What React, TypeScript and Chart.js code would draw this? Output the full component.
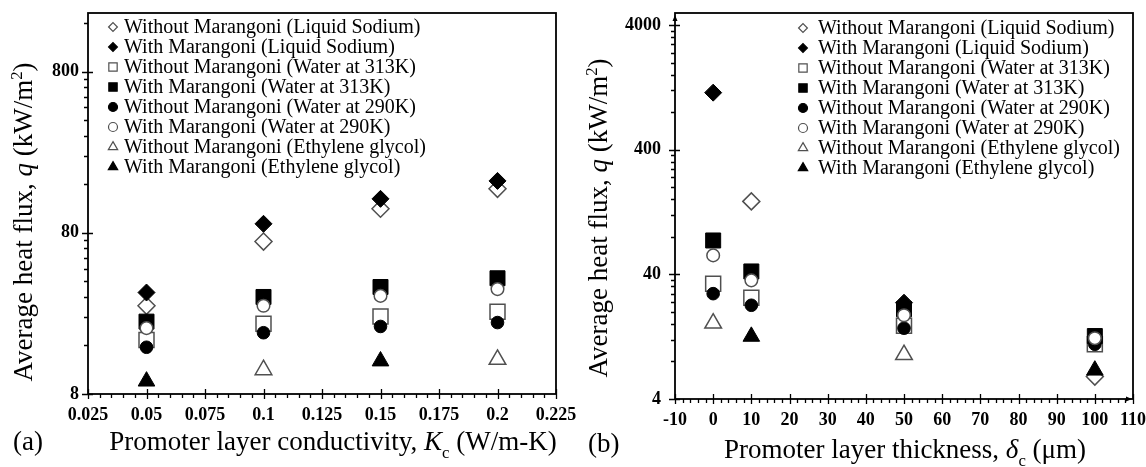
import React, { useEffect, useRef } from "react";
import { Chart, registerables } from "chart.js";
import { drawPoint } from "chart.js/helpers";

Chart.register(...registerables);

const FONT = '"Liberation Serif", "Times New Roman", serif';

// ---------- shared series names ----------
const seriesNames = [
  "Without Marangoni (Liquid Sodium)",
  "With Marangoni (Liquid Sodium)",
  "Without Marangoni (Water at 313K)",
  "With Marangoni (Water at 313K)",
  "Without Marangoni (Water at 290K)",
  "With Marangoni (Water at 290K)",
  "Without Marangoni (Ethylene glycol)",
  "With Marangoni (Ethylene glycol)",
];

// ---------- panel (a): conductivity ----------
const kcValues = [0.05, 0.1, 0.15, 0.2];
const aWithoutSodium = [28.2, 70.6, 113, 150];
const aWithSodium = [34.1, 91, 130, 168];
const aWithout313 = [17.3, 21.8, 24.2, 25.9];
const aWith313 = [22.5, 32.0, 36.9, 41.8];
const aWithout290 = [15.6, 19.2, 21.0, 22.2];
const aWith290 = [20.5, 28.2, 32.5, 35.8];
const aWithoutGlycol = [null, 11.3, null, 13.1];
const aWithGlycol = [9.6, null, 12.8, null];
const aXTicks = [0.025, 0.05, 0.075, 0.1, 0.125, 0.15, 0.175, 0.2, 0.225];
const aYTicks = [8, 80, 800];
const aYMax = 1850;

// ---------- panel (b): thickness ----------
const deltaValues = [0, 10, 50, 100];
const bWithoutSodium = [null, 154, null, 6.05];
const bWithSodium = [1148, null, 23.7, null];
const bWithout313 = [33.7, 26, 15.5, 11];
const bWith313 = [74.8, 42.2, 21, 12.8];
const bWithout290 = [28, 22.6, 14.8, 11];
const bWith290 = [56.8, 35.8, 18.8, 12.3];
const bWithoutGlycol = [16.2, null, 9.05, null];
const bWithGlycol = [null, 12.7, null, 6.8];
const bXTicks = [-10, 0, 10, 20, 30, 40, 50, 60, 70, 80, 90, 100, 110];
const bYTicks = [4, 40, 400, 4000];
const bYMax = 5000;

// marker styles (index-aligned with seriesNames)
const MARKERS = [
  { shape: "rectRot", filled: false, r: 8.5, lr: 4.4 },
  { shape: "rectRot", filled: true, r: 8.5, lr: 4.4 },
  { shape: "rect", filled: false, r: 10.6, lr: 5.9 },
  { shape: "rect", filled: true, r: 10.6, lr: 5.9 },
  { shape: "circle", filled: true, r: 6.3, lr: 4.5 },
  { shape: "circle", filled: false, r: 6.3, lr: 4.5 },
  { shape: "triangle", filled: false, r: 9.6, lr: 5.4 },
  { shape: "triangle", filled: true, r: 9.6, lr: 5.4 },
];

const fillOf = (i: number) => (MARKERS[i].filled ? "#000000" : "#ffffff");
const strokeOf = (i: number) => (MARKERS[i].filled ? "#000000" : "#505050");

function makeDatasets(xs: number[], series: (number | null)[][]) {
  return series.map((vals, i) => {
    const m = MARKERS[i];
    return {
      label: seriesNames[i],
      data: xs
        .map((x, j) => (vals[j] == null ? null : { x, y: vals[j] as number }))
        .filter((p) => p !== null),
      order: 10 - i,
      pointStyle: m.shape,
      pointRadius: m.r,
      pointHoverRadius: m.r,
      pointBorderWidth: m.filled ? 1 : 1.5,
      borderWidth: m.filled ? 1 : 1.5,
      backgroundColor: fillOf(i),
      borderColor: strokeOf(i),
      pointBackgroundColor: fillOf(i),
      pointBorderColor: strokeOf(i),
      showLine: false,
    };
  });
}

function linearMinor(majors: number[], div: number) {
  const out: number[] = [];
  for (let i = 0; i < majors.length - 1; i++) {
    const step = (majors[i + 1] - majors[i]) / div;
    for (let k = 1; k < div; k++) out.push(majors[i] + k * step);
  }
  return out;
}

function logMinor(majors: number[], max: number) {
  const out: number[] = [];
  for (const m of majors) {
    for (let n = 2; n <= 9; n++) {
      const v = m * n;
      if (v < max) out.push(v);
    }
  }
  return out;
}

type Seg = { t: string; k?: "it" | "sub" | "sup" };

function drawRich(ctx: CanvasRenderingContext2D, segs: Seg[], size: number, x: number, y: number, rotate: boolean, align: "center" | "left") {
  ctx.save();
  ctx.translate(x, y);
  if (rotate) ctx.rotate(-Math.PI / 2);
  const parts = segs.map((s) => {
    const small = s.k === "sub" || s.k === "sup";
    const fs = small ? size * 0.62 : size;
    const font = `${s.k === "it" ? "italic " : ""}${fs}px ${FONT}`;
    ctx.font = font;
    return {
      ...s,
      font,
      w: ctx.measureText(s.t).width,
      dy: s.k === "sub" ? size * 0.3 : s.k === "sup" ? -size * 0.38 : 0,
    };
  });
  const total = parts.reduce((a, p) => a + p.w, 0);
  let cx = align === "center" ? -total / 2 : 0;
  ctx.textBaseline = "alphabetic";
  ctx.textAlign = "left";
  ctx.fillStyle = "#000";
  for (const p of parts) {
    ctx.font = p.font;
    ctx.fillText(p.t, cx, p.dy);
    cx += p.w;
  }
  ctx.restore();
}

type PanelCfg = {
  xs: number[];
  series: (number | null)[][];
  xMajors: number[];
  xMinorDiv: number;
  yMajors: number[];
  yMax: number;
  width: number;
  plotLeft: number;
  plotRight: number;
  plotTop: number;
  plotBottom: number;
  height: number;
  yLabelPad: number;
  legendSymX: number;
  legendTextX: number;
  legendTopY: number;
  legendRow: number;
  xTitle: Seg[];
  yTitle: Seg[];
  panel: string;
  xTitleX: number;
  xTitleY: number;
  yTitleX: number;
  yTitleY: number;
  panelX: number;
  panelY: number;
  arrows: boolean;
};

const TITLE_SIZE = 27;

function Panel({ cfg }: { cfg: PanelCfg }) {
  const ref = useRef<HTMLCanvasElement | null>(null);
  useEffect(() => {
    const canvas = ref.current;
    if (!canvas) return;
    const xMinors = linearMinor(cfg.xMajors, cfg.xMinorDiv);
    const yMinors = logMinor(cfg.yMajors, cfg.yMax);
    const xAll = [...cfg.xMajors, ...xMinors].sort((a, b) => a - b);
    const yAll = [...cfg.yMajors, ...yMinors].sort((a, b) => a - b);
    const isMajor = (arr: number[], v: number) => arr.some((m) => Math.abs(m - v) < 1e-9 * Math.max(1, Math.abs(m)));

    const decor = {
      id: "decor",
      afterDraw(chart: any) {
        const ctx: CanvasRenderingContext2D = chart.ctx;
        const a = chart.chartArea;
        const xs = chart.scales.x;
        const ys = chart.scales.y;
        ctx.save();
        ctx.strokeStyle = "#000";
        ctx.lineWidth = 1.8;
        ctx.strokeRect(a.left, a.top, a.right - a.left, a.bottom - a.top);
        ctx.lineWidth = 1.3;
        ctx.beginPath();
        for (const t of xs.ticks) {
          const px = Math.round(xs.getPixelForValue(t.value)) + 0.5;
          const maj = isMajor(cfg.xMajors, t.value);
          ctx.moveTo(px, a.bottom - (maj ? 5 : 0));
          ctx.lineTo(px, a.bottom + (maj ? 5 : 4));
        }
        for (const t of ys.ticks) {
          const py = Math.round(ys.getPixelForValue(t.value)) + 0.5;
          const maj = isMajor(cfg.yMajors, t.value);
          ctx.moveTo(a.left - (maj ? 6 : 4), py);
          ctx.lineTo(a.left + (maj ? 5 : 0), py);
        }
        ctx.stroke();

        if (cfg.arrows) {
          ctx.fillStyle = "#000";
          ctx.beginPath();
          ctx.moveTo(a.left, a.top + 2);
          ctx.lineTo(a.left - 2.5, a.top + 8);
          ctx.lineTo(a.left + 2.5, a.top + 8);
          ctx.closePath();
          ctx.fill();
          ctx.beginPath();
          ctx.moveTo(a.right - 1, a.bottom);
          ctx.lineTo(a.right - 7, a.bottom - 2.5);
          ctx.lineTo(a.right - 7, a.bottom + 2.5);
          ctx.closePath();
          ctx.fill();
        }

        // legend
        chart.data.datasets.forEach((ds: any, i: number) => {
          const cy = cfg.legendTopY + i * cfg.legendRow;
          ctx.fillStyle = fillOf(i);
          ctx.strokeStyle = strokeOf(i);
          ctx.lineWidth = 1.2;
          drawPoint(ctx, { pointStyle: MARKERS[i].shape as any, radius: MARKERS[i].lr, rotation: 0, borderWidth: 1.2 }, cfg.legendSymX, cy);
          ctx.fillStyle = "#000";
          ctx.font = `20px ${FONT}`;
          ctx.textAlign = "left";
          ctx.textBaseline = "middle";
          ctx.fillText(ds.label, cfg.legendTextX, cy + 1);
        });
        ctx.restore();

        drawRich(ctx, cfg.xTitle, TITLE_SIZE, cfg.xTitleX, cfg.xTitleY, false, "center");
        drawRich(ctx, cfg.yTitle, TITLE_SIZE, cfg.yTitleX, cfg.yTitleY, true, "center");
        drawRich(ctx, [{ t: cfg.panel }], TITLE_SIZE, cfg.panelX, cfg.panelY, false, "left");
      },
    };

    const tickFont = { family: FONT, size: 18, weight: "bold" as const };

    const chart = new Chart(canvas, {
      type: "scatter",
      data: { datasets: makeDatasets(cfg.xs, cfg.series) as any },
      options: {
        animation: false,
        responsive: false,
        devicePixelRatio: 1,
        layout: { padding: { top: cfg.plotTop, right: cfg.width - cfg.plotRight, left: 0, bottom: 0 } },
        plugins: {
          legend: { display: false },
          tooltip: { enabled: false },
        },
        scales: {
          x: {
            type: "linear",
            min: cfg.xMajors[0],
            max: cfg.xMajors[cfg.xMajors.length - 1],
            bounds: "data",
            afterBuildTicks: (s: any) => {
              s.ticks = xAll.map((v) => ({ value: v }));
            },
            afterFit: (s: any) => {
              s.height = cfg.height - cfg.plotBottom;
              s.paddingLeft = 0;
              s.paddingRight = 0;
            },
            grid: { display: false, drawTicks: false },
            border: { display: false },
            ticks: {
              autoSkip: false,
              maxRotation: 0,
              padding: 11,
              color: "#000",
              font: tickFont,
              callback: (v: any) => {
                const m = cfg.xMajors.find((q) => Math.abs(q - Number(v)) < 1e-9);
                return m === undefined ? "" : String(m);
              },
            },
          },
          y: {
            type: "logarithmic",
            min: cfg.yMajors[0],
            max: cfg.yMax,
            bounds: "data",
            afterBuildTicks: (s: any) => {
              s.ticks = yAll.map((v) => ({ value: v }));
            },
            afterFit: (s: any) => {
              s.width = cfg.plotLeft;
              s.paddingTop = 0;
              s.paddingBottom = 0;
            },
            grid: { display: false, drawTicks: false },
            border: { display: false },
            ticks: {
              autoSkip: false,
              padding: cfg.yLabelPad,
              color: "#000",
              font: tickFont,
              callback: (v: any) => (isMajor(cfg.yMajors, Number(v)) ? String(Number(v)) : ""),
            },
          },
        },
      } as any,
      plugins: [decor as any],
    });
    return () => chart.destroy();
  }, [cfg]);
  return <canvas ref={ref} width={cfg.width} height={cfg.height} style={{ display: "block" }} />;
}

const panelA: PanelCfg = {
  xs: kcValues,
  series: [aWithoutSodium, aWithSodium, aWithout313, aWith313, aWithout290, aWith290, aWithoutGlycol, aWithGlycol],
  xMajors: aXTicks,
  xMinorDiv: 5,
  yMajors: aYTicks,
  yMax: aYMax,
  width: 600,
  height: 467,
  plotLeft: 88,
  plotRight: 556,
  plotTop: 13,
  plotBottom: 394,
  yLabelPad: 9,
  legendSymX: 113,
  legendTextX: 124,
  legendTopY: 27,
  legendRow: 20,
  xTitle: [{ t: "Promoter layer conductivity, " }, { t: "K", k: "it" }, { t: "c", k: "sub" }, { t: " (W/m-K)" }],
  yTitle: [{ t: "Average heat flux, " }, { t: "q", k: "it" }, { t: " (kW/m" }, { t: "2", k: "sup" }, { t: ")" }],
  panel: "(a)",
  xTitleX: 333,
  xTitleY: 450,
  yTitleX: 32,
  yTitleY: 222,
  panelX: 13,
  panelY: 450,
  arrows: false,
};

const panelB: PanelCfg = {
  xs: deltaValues,
  series: [bWithoutSodium, bWithSodium, bWithout313, bWith313, bWithout290, bWith290, bWithoutGlycol, bWithGlycol],
  xMajors: bXTicks,
  xMinorDiv: 5,
  yMajors: bYTicks,
  yMax: bYMax,
  width: 573,
  height: 467,
  plotLeft: 102,
  plotRight: 560,
  plotTop: 13,
  plotBottom: 399,
  yLabelPad: 14,
  legendSymX: 230,
  legendTextX: 245,
  legendTopY: 28,
  legendRow: 20,
  xTitle: [{ t: "Promoter layer thickness, " }, { t: "δ", k: "it" }, { t: "c", k: "sub" }, { t: " (μm)" }],
  yTitle: [{ t: "Average heat flux, " }, { t: "q", k: "it" }, { t: " (kW/m" }, { t: "2", k: "sup" }, { t: ")" }],
  panel: "(b)",
  xTitleX: 332,
  xTitleY: 458,
  yTitleX: 34,
  yTitleY: 218,
  panelX: 15,
  panelY: 452,
  arrows: true,
};

export default function App() {
  return (
    <div style={{ position: "fixed", left: 0, top: 0, width: 1146, height: 467, background: "#ffffff", overflow: "hidden" }}>
      <div style={{ position: "absolute", left: 0, top: 0 }}>
        <Panel cfg={panelA} />
      </div>
      <div style={{ position: "absolute", left: 573, top: 0 }}>
        <Panel cfg={panelB} />
      </div>
    </div>
  );
}
